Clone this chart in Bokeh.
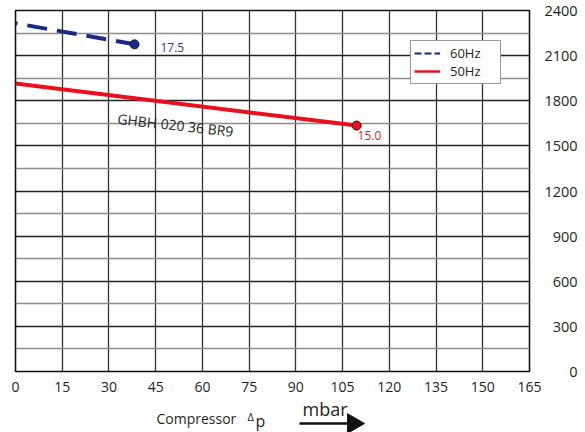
import math
from bokeh.plotting import figure
from bokeh.layouts import column
from bokeh.models import Range1d, FixedTicker, Label, Legend, LegendItem
from bokeh.core.properties import value
from bokeh.embed import file_html
from bokeh.resources import INLINE

# ---- data ----
x_ticks = [0, 15, 30, 45, 60, 75, 90, 105, 120, 135, 150, 165]
y_ticks = [0, 300, 600, 900, 1200, 1500, 1800, 2100, 2400]
y_minor = [150, 450, 750, 1050, 1350, 1650, 1950, 2250]
y_tick_labels = ["0", "300", "600", "900", "1200", "1500", "1800", "2100", "2400"]

dp_60 = [0, 38.2]
flow_60 = [2315, 2175]
dp_50 = [0, 109.5]
flow_50 = [1915, 1635]
end_label_60 = "17.5"
end_label_50 = "15.0"
series_names = ["60Hz", "50Hz"]
model_name = "GHBH  020 36 BR9"
x_title = "Compressor"
x_title_delta = "\u0394"
x_title_p = "p"
x_unit = "mbar"

# ---- style / geometry (page pixels) ----
FONT = "Open Sans"
NAVY = "#1b2a84"
RED = "#e8101e"
INK = "#231f20"

FRAME_LEFT, FRAME_RIGHT, FRAME_TOP, FRAME_BOTTOM = 15, 529, 10, 371
FRAME_W = FRAME_RIGHT - FRAME_LEFT
FRAME_H = FRAME_BOTTOM - FRAME_TOP
X_MAX, Y_MAX = 165, 2400
PX_X = FRAME_W / X_MAX
PX_Y = FRAME_H / Y_MAX
W = 585
H_MAIN = 396
H_FOOT = 432 - H_MAIN


def dx(px):
    return (px - FRAME_LEFT) / PX_X


def dy(py):
    return (FRAME_BOTTOM - py) / PX_Y


def fy(py):  # footer figure: y measured in px from its bottom
    return 432 - py


x_range = Range1d(0, X_MAX)
p = figure(width=W, height=H_MAIN, x_range=x_range, y_range=Range1d(0, Y_MAX),
           y_axis_location="right", output_backend="svg", toolbar_location=None,
           min_border_left=FRAME_LEFT, min_border_right=W - FRAME_RIGHT,
           min_border_top=FRAME_TOP, min_border_bottom=H_MAIN - FRAME_BOTTOM)
p.background_fill_color = "white"
p.border_fill_color = "white"
p.outline_line_color = "#111111"
p.outline_line_width = 1.6

# x axis
xa = p.xaxis[0]
xa.ticker = FixedTicker(ticks=x_ticks)
xa.major_tick_line_color = None
xa.minor_tick_line_color = None
xa.axis_line_color = None
xa.major_label_standoff = 4
xa.major_label_text_font = FONT
xa.major_label_text_font_size = "14px"
xa.major_label_text_color = INK

# y axis (right), labels padded with figure spaces to look right-aligned
ya = p.yaxis[0]
ya.ticker = FixedTicker(ticks=y_ticks)
ya.major_label_overrides = {t: "\u2007" * (4 - len(s)) + s for t, s in zip(y_ticks, y_tick_labels)}
ya.major_tick_line_color = None
ya.minor_tick_line_color = None
ya.axis_line_color = None
ya.major_label_standoff = 9
ya.major_label_text_font = FONT
ya.major_label_text_font_size = "14.5px"
ya.major_label_text_color = INK

# grids
p.xgrid.ticker = FixedTicker(ticks=x_ticks)
p.xgrid.grid_line_color = "#333333"
p.xgrid.grid_line_width = 1.3
p.ygrid.ticker = FixedTicker(ticks=y_ticks, minor_ticks=y_minor)
p.ygrid.grid_line_color = "#222222"
p.ygrid.grid_line_width = 1.3
p.ygrid.minor_grid_line_color = "#8c8c8c"
p.ygrid.minor_grid_line_width = 1.3

# series
p.line(dp_60, flow_60, line_color=NAVY, line_width=4, line_dash="20 10", line_dash_offset=18)
p.scatter(dp_60[-1:], flow_60[-1:], size=9, fill_color=NAVY, line_color="#111133")
p.line(dp_50, flow_50, line_color=RED, line_width=4)
p.scatter(dp_50[-1:], flow_50[-1:], size=9, fill_color=RED, line_color="#3a0000")

p.add_layout(Label(x=dp_60[-1], y=flow_60[-1], text=end_label_60, x_offset=26, y_offset=-3,
                   text_baseline="middle", text_font=FONT, text_font_size="12px",
                   text_color="#2b3a95"))
p.add_layout(Label(x=dp_50[-1], y=flow_50[-1], text=end_label_50, x_offset=1, y_offset=-5,
                   text_baseline="top", text_font=FONT, text_font_size="12px",
                   text_color="#e8202a"))
p.add_layout(Label(x=dx(117), y=dy(118), text=model_name, angle=-0.11,
                   text_baseline="alphabetic", text_font=FONT, text_font_size="14px",
                   text_color=INK))

# legend: single-point line renderers (draw nothing in the plot) carrying thin legend styles
l60 = p.line(dp_60[:1], flow_60[:1], line_color=NAVY, line_width=2, line_dash="7 3")
l50 = p.line(dp_50[:1], flow_50[:1], line_color=RED, line_width=2.5)
legend = Legend(items=[LegendItem(label=series_names[0], renderers=[l60]),
                       LegendItem(label=series_names[1], renderers=[l50])],
                location=(410 - FRAME_LEFT, FRAME_BOTTOM - 84), margin=0, padding=3, spacing=0,
                glyph_width=26, glyph_height=14, label_height=14, label_width=47,
                label_standoff=10, label_text_font=FONT, label_text_font_size="13px",
                label_text_color=INK, border_line_color="#333333", border_line_width=1.2,
                background_fill_color="white", background_fill_alpha=1.0)
p.add_layout(legend)

# ---- footer figure with the axis title and arrow ----
f = figure(width=W, height=H_FOOT, x_range=x_range, y_range=Range1d(0, H_FOOT),
           output_backend="svg", toolbar_location=None,
           min_border_left=FRAME_LEFT, min_border_right=W - FRAME_RIGHT,
           min_border_top=0, min_border_bottom=0)
f.axis.visible = False
f.grid.visible = False
f.outline_line_color = None
f.background_fill_color = "white"
f.border_fill_color = "white"

f.text(x=[dx(156)], y=[fy(418)], text=[x_title], text_baseline="alphabetic",
       text_font=value(FONT), text_font_size="14px", text_color=INK)
f.text(x=[dx(247)], y=[fy(416)], text=[x_title_delta], text_baseline="alphabetic",
       text_font=value(FONT), text_font_size="11px", text_color=INK)
f.text(x=[dx(255)], y=[fy(420)], text=[x_title_p], text_baseline="alphabetic",
       text_font=value(FONT), text_font_size="16px", text_color=INK)
f.text(x=[dx(302)], y=[fy(408)], text=[x_unit], text_baseline="alphabetic",
       text_font=value(FONT), text_font_size="18px", text_color=INK)
f.segment(x0=[dx(299)], y0=[fy(423)], x1=[dx(350)], y1=[fy(423)],
          line_color="#111111", line_width=2.5)
f.scatter(x=[dx(352.7)], y=[fy(423)], marker="triangle", size=19.6, angle=-math.pi / 2,
          fill_color="#111111", line_color="#111111")

open("out.html", "w").write(file_html(column(p, f, spacing=0), INLINE))
